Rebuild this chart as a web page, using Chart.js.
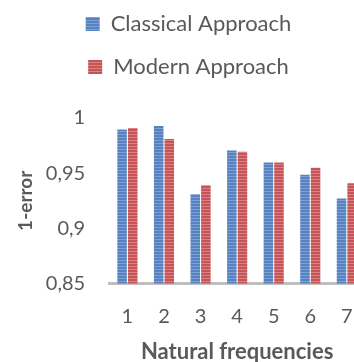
<!DOCTYPE html>
<html>
<head>
<meta charset="utf-8">
<script src="https://cdn.jsdelivr.net/npm/chart.js@4/dist/chart.umd.min.js"></script>
<style>
  html, body { margin: 0; padding: 0; background: #fff; overflow: hidden; }
  #wrap { width: 374px; height: 362px; }
</style>
</head>
<body>
<div id="wrap"><canvas id="myChart" width="374" height="362"></canvas></div>
<script>
// Veriler
const frekanslar = ['1', '2', '3', '4', '5', '6', '7'];
const klasikYaklasim = [0.9895, 0.9928, 0.931, 0.9706, 0.9596, 0.9485, 0.927];
const modernYaklasim = [0.991, 0.981, 0.939, 0.9695, 0.9596, 0.955, 0.941];
const yEtiketleri = [0.85, 0.9, 0.95, 1];

// Çizgili dolgu deseni
function desen(renk, acik) {
    const c = document.createElement('canvas');
    c.width = 4;
    c.height = 3;
    const g = c.getContext('2d');
    g.fillStyle = renk;
    g.fillRect(0, 0, 4, 3);
    g.fillStyle = acik;
    g.fillRect(0, 2, 4, 1);
    return g.createPattern(c, 'repeat');
}

// Lejant ile grafik arasına boşluk
const lejantBoslugu = {
    id: 'lejantBoslugu',
    beforeInit(chart) {
        const fit = chart.legend.fit;
        chart.legend.fit = function () {
            fit.bind(chart.legend)();
            this.height += 30;
        };
    }
};

function grafikOlustur() {
    const ctx = document.getElementById('myChart').getContext('2d');
    const yazi = '"Lato", "Open Sans", sans-serif';

    return new Chart(ctx, {
        type: 'bar',
        data: {
            labels: frekanslar,
            datasets: [
                {
                    label: 'Classical Approach',
                    data: klasikYaklasim,
                    backgroundColor: desen('#5782c2', '#7fa0d3'),
                    barPercentage: 0.9,
                    categoryPercentage: 0.58
                },
                {
                    label: 'Modern Approach',
                    data: modernYaklasim,
                    backgroundColor: desen('#c65457', '#d88284'),
                    barPercentage: 0.9,
                    categoryPercentage: 0.58
                }
            ]
        },
        plugins: [lejantBoslugu],
        options: {
            responsive: false,
            animation: false,
            layout: { padding: { left: 8, top: -8, right: 5, bottom: -3 } },
            plugins: {
                legend: {
                    position: 'top',
                    labels: {
                        boxWidth: 14,
                        boxHeight: 14,
                        padding: 21,
                        color: '#595959',
                        font: { family: yazi, size: 22 }
                    }
                },
                tooltip: { enabled: false }
            },
            scales: {
                x: {
                    grid: { display: false, drawTicks: false },
                    border: { color: '#bfbfbf', width: 3 },
                    ticks: { color: '#595959', padding: 21, font: { family: yazi, size: 20 } },
                    title: {
                        display: true,
                        text: 'Natural frequencies',
                        color: '#595959',
                        padding: { top: -11, bottom: 0 },
                        font: { family: yazi, size: 22, weight: 'bold' }
                    }
                },
                y: {
                    min: 0.85,
                    max: 1,
                    afterBuildTicks: (axis) => {
                        axis.ticks = yEtiketleri.map(v => ({ value: v }));
                    },
                    grid: { display: false, drawTicks: false },
                    border: { display: false },
                    ticks: {
                        color: '#595959',
                        padding: 24,
                        font: { family: yazi, size: 20 },
                        callback: (v) => String(Math.round(v * 100) / 100).replace('.', ',')
                    },
                    title: {
                        display: true,
                        text: '1-error',
                        color: '#595959',
                        padding: { top: 6, bottom: -15 },
                        font: { family: yazi, size: 19, weight: 'bold' }
                    }
                }
            }
        }
    });
}

const myChart = grafikOlustur();
</script>
</body>
</html>
